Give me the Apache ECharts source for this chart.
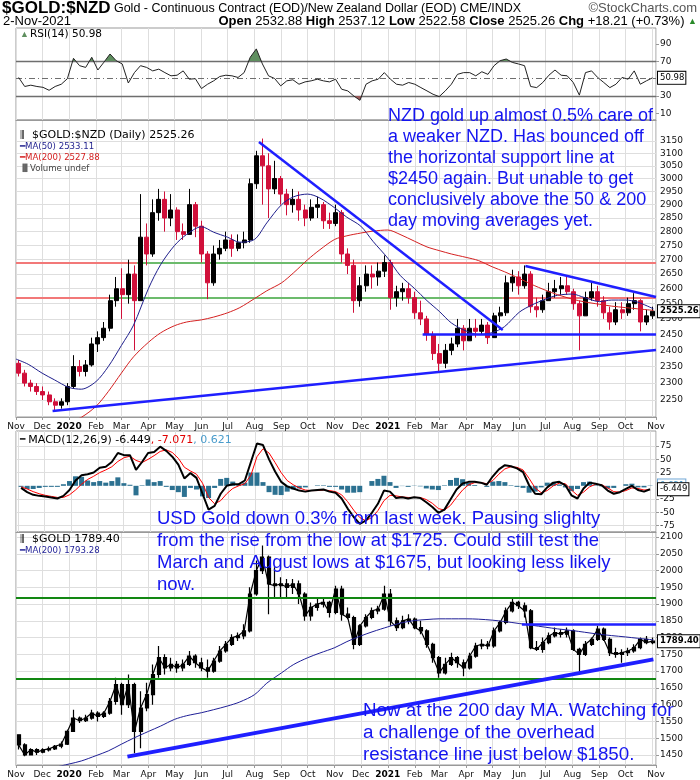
<!DOCTYPE html>
<html>
<head>
<meta charset="utf-8">
<title>$GOLD:$NZD</title>
<script src="https://cdn.jsdelivr.net/npm/echarts@6/dist/echarts.min.js"></script>
<style>
html,body{margin:0;padding:0;background:#ffffff;}
#chart{width:700px;height:780px;}
</style>
</head>
<body>
<div id="chart"></div>
<script>
// ================= DATA (weekly) =================
const weekStart = '2019-11-04';
const weekCount = 105;

const nzdOpen = [2360,2330,2300,2290,2275,2265,2245,2235,2245,2290, 2350,2335,2355,2420,2440,2470,2560,2600,2580,2650, 2560,2780,2720,2870,2920,2850,2880,2800,2790,2900, 2820,2720,2620,2720,2740,2770,2740,2760,2770,2980, 3090,3050,2960,3000,2940,2900,2920,2880,2850,2890, 2900,2840,2830,2870,2720,2680,2560,2610,2650,2640, 2660,2690,2570,2590,2600,2570,2520,2500,2450,2390, 2360,2400,2420,2470,2430,2470,2460,2480,2440,2510, 2520,2620,2640,2610,2650,2540,2530,2560,2590,2600, 2610,2590,2550,2510,2570,2590,2560,2520,2490,2530, 2520,2550,2560,2490,2510];
const nzdHigh = [2370,2340,2310,2300,2290,2275,2255,2255,2300,2385, 2370,2370,2440,2460,2490,2580,2640,2670,2700,2680, 2940,2830,2920,2960,2950,2940,2890,2830,2960,2910, 2840,2730,2750,2770,2800,2790,2790,2800,3000,3110, 3160,3100,3070,3010,2960,2960,2950,2900,2920,2930, 2910,2870,2900,2880,2740,2700,2640,2680,2680,2690, 2715,2700,2610,2620,2620,2590,2560,2510,2460,2420, 2420,2440,2500,2480,2500,2500,2500,2490,2520,2540, 2645,2665,2660,2680,2660,2570,2580,2620,2630,2640, 2645,2600,2560,2590,2625,2610,2575,2540,2555,2555, 2570,2585,2565,2530,2540];
const nzdLow = [2320,2290,2275,2265,2250,2235,2220,2225,2235,2285, 2320,2320,2350,2395,2430,2460,2540,2500,2550,2400, 2560,2680,2710,2840,2800,2820,2770,2770,2790,2780, 2690,2565,2610,2700,2730,2710,2730,2740,2760,2960, 2900,2850,2940,2900,2860,2870,2840,2820,2840,2850, 2810,2810,2820,2690,2650,2520,2540,2590,2600,2610, 2640,2530,2540,2560,2550,2500,2480,2430,2370,2335, 2345,2385,2410,2400,2430,2440,2450,2420,2440,2490, 2510,2590,2580,2600,2520,2505,2520,2560,2570,2580, 2580,2530,2400,2510,2560,2540,2500,2465,2480,2500, 2510,2530,2460,2480,2500];
const nzdClose = [2330,2300,2290,2275,2265,2245,2235,2245,2290,2350, 2335,2355,2420,2440,2470,2560,2600,2580,2650,2560, 2780,2720,2870,2920,2850,2880,2800,2790,2900,2820, 2720,2620,2720,2740,2770,2740,2760,2770,2980,3090, 3050,2960,3000,2940,2900,2920,2880,2850,2890,2900, 2840,2830,2870,2720,2680,2560,2610,2650,2640,2660, 2690,2570,2590,2600,2570,2520,2500,2450,2390,2360, 2400,2420,2470,2430,2470,2460,2480,2440,2510,2520, 2620,2640,2610,2650,2540,2530,2560,2590,2600,2610, 2590,2550,2510,2570,2590,2560,2520,2490,2530,2520, 2550,2560,2490,2510,2525.26];

const usdOpen = [1510,1480,1450,1466,1458,1465,1468,1476,1482,1520, 1560,1552,1560,1575,1565,1575,1610,1660,1600,1660, 1520,1590,1630,1690,1740,1710,1720,1710,1720,1745, 1725,1710,1700,1730,1760,1780,1800,1805,1820,1930, 2000,2040,1960,1955,1960,1950,1960,1930,1865,1890, 1900,1905,1875,1945,1870,1860,1780,1835,1860,1880, 1885,1930,1850,1830,1850,1855,1830,1820,1780,1740, 1695,1720,1740,1725,1710,1745,1775,1780,1775,1820, 1845,1880,1905,1895,1880,1770,1765,1785,1805,1815, 1810,1820,1765,1750,1780,1795,1825,1795,1755,1750, 1755,1760,1770,1795,1785];
const usdHigh = [1512,1485,1470,1470,1470,1475,1480,1490,1525,1585, 1565,1570,1585,1580,1580,1620,1680,1665,1690,1665, 1640,1665,1720,1775,1750,1740,1730,1735,1760,1750, 1740,1735,1740,1775,1790,1810,1815,1840,1950,2030, 2075,2045,2010,1980,1975,1975,1970,1935,1905,1915, 1920,1910,1955,1955,1890,1865,1840,1870,1890,1895, 1955,1945,1860,1865,1870,1860,1850,1825,1785,1745, 1740,1755,1745,1735,1755,1785,1795,1790,1830,1850, 1890,1915,1910,1905,1885,1790,1800,1815,1830,1825, 1830,1825,1770,1790,1800,1835,1830,1800,1770,1765, 1770,1780,1800,1805,1800];
const usdLow = [1466,1446,1448,1450,1455,1460,1465,1470,1480,1520, 1545,1548,1555,1550,1560,1570,1600,1570,1590,1455, 1470,1580,1600,1680,1690,1700,1695,1700,1715,1710, 1700,1680,1695,1725,1755,1775,1790,1795,1815,1925, 1990,1870,1920,1920,1920,1930,1900,1850,1850,1880, 1890,1860,1870,1850,1855,1765,1775,1830,1855,1870, 1880,1835,1820,1825,1840,1825,1810,1770,1725,1680, 1690,1715,1710,1685,1705,1740,1765,1765,1770,1815, 1840,1875,1885,1860,1765,1760,1755,1780,1800,1800, 1800,1760,1690,1745,1775,1790,1790,1745,1740,1725, 1745,1755,1765,1780,1780];
const usdClose = [1480,1450,1466,1458,1465,1468,1476,1482,1520,1560, 1552,1560,1575,1565,1575,1610,1660,1600,1660,1520, 1590,1630,1690,1740,1710,1720,1710,1720,1745,1725, 1710,1700,1730,1760,1780,1800,1805,1820,1930,2000, 2040,1960,1955,1960,1950,1960,1930,1865,1890,1900, 1905,1875,1945,1870,1860,1780,1835,1860,1880,1885, 1930,1850,1830,1850,1855,1830,1820,1780,1740,1695, 1720,1740,1725,1710,1745,1775,1780,1775,1820,1845, 1880,1905,1895,1880,1770,1765,1785,1805,1815,1810, 1820,1765,1750,1780,1795,1825,1795,1755,1750,1755, 1760,1770,1795,1785,1789.4];

const rsi14 = [51.4,41,42.5,41,40,36.6,41,43.6,50,73.5, 65,63,74.7,60,69,78.5,70.8,67,45,57, 65,63,59,61,57,53.3,54,59,49.4,50, 38.6,43.6,47.5,52.5,54,53.3,51.4,57,74.7,84.4, 67,53.3,50.2,41.7,47.5,48.7,43.6,46.3,47.5,49.4, 47.5,46.3,49.4,37.8,35.9,30,25,43.6,47.5,49.4, 57,49.4,43.6,42.5,45.6,43.6,39.7,35.9,32,29.3, 35.9,43.6,55,57,57,53.3,58,55,65,70.8, 72.7,68.8,67,65,41,39.7,45.6,54,60,54, 53.3,45.6,31,57,59,51.4,45.6,39.7,43.6,51.4, 49.4,59,43.6,47.5,50.98];

const macdLine = [-4,-12,-17,-19,-20,-22,-24,-19,-8,10, 20,22,25,34,36,45,62,58,58,30, 45,62,64,74,66,55,40,14,24,15, -15,-45,-38,-15,0,3,3,10,45,80, 77,50,27,7.5,-1,-5,-9,-11,-9,-8, -7,-11,-13,-24,-43,-59,-72,-66,-51,-34, -9,-11,-23,-21.5,-24,-21.5,-23,-31,-40,-51, -45,-26,-7,4.5,7.5,7.5,6,2,18,31, 39,37,33,26,1,-15,-16,-3,6,7.5, 1,-18,-24,-5,6,4,1,-9,-15,-12, -6,0,-8,-11,-6.449];
const macdSignal = [-2,-6,-11,-15,-18,-20,-22,-22,-17,-8, 3,12,18,25,30,36,46,53,56,48, 44,50,57,65,68,63,52,35,28,22, 5,-22,-34,-28,-15,-5,0,4,20,55, 70,62,44,25,10,2,-4,-8,-9,-9, -8,-9,-11,-17,-30,-46,-60,-66,-60,-47, -28,-18,-19,-21,-22,-22,-22,-26,-33,-43, -46,-37,-22,-8,2,6,6,4,10,22, 32,36,35,30,14,-4,-13,-9,0,5, 4,-8,-18,-12,-2,3,2,-4,-11,-12, -9,-4,-5,-8,-7.071];
const macdHistLast = 0.621;

const maDates = ['2019-11-01','2019-11-15','2019-12-01','2019-12-15','2020-01-01','2020-01-15','2020-02-01','2020-02-15','2020-03-01','2020-03-15','2020-04-01','2020-04-15','2020-05-01','2020-05-15','2020-06-01','2020-06-15','2020-07-01','2020-07-15','2020-08-01','2020-08-15','2020-09-01','2020-09-15','2020-10-01','2020-10-15','2020-11-01','2020-11-15','2020-12-01','2020-12-15','2021-01-01','2021-01-15','2021-02-01','2021-02-15','2021-03-01','2021-03-15','2021-04-01','2021-04-15','2021-05-01','2021-05-15','2021-06-01','2021-06-15','2021-07-01','2021-07-15','2021-08-01','2021-08-15','2021-09-01','2021-09-15','2021-10-01','2021-10-15','2021-11-02'];
const nzdMa50 = [2373,2357,2330,2310,2287,2282,2305,2350,2415,2480,2600,2682,2750,2790,2818,2798,2780,2762,2772,2832,2900,2930,2940,2925,2888,2853,2820,2765,2705,2646,2600,2560,2525,2487,2461,2450,2456,2475,2522,2545,2565,2578,2582,2570,2557,2562,2562,2555,2533.11];
const nzdMa200 = [2120,2130,2145,2165,2185,2200,2232,2275,2330,2380,2425,2455,2478,2490,2497,2506,2520,2537,2567,2593,2620,2655,2700,2735,2772,2785,2795,2802,2806,2790,2765,2745,2732,2720,2708,2697,2675,2658,2635,2615,2595,2580,2565,2556,2548,2542,2537,2533,2527.88];
const usdMa200 = [1380,1390,1400,1412,1423,1432,1448,1462,1482,1500,1520,1536,1556,1567,1576,1585,1596,1608,1630,1664,1695,1720,1740,1754,1770,1788,1805,1818,1832,1843,1851,1854,1856,1856,1856,1855,1852,1848,1842,1837,1831,1826,1821,1816,1810,1806,1802,1798,1793.28];

// axis ticks
const rsiTicks = [10,30,70,90];
const rsiBands = [30,70];
const rsiMid = 50;
const nzdTicks = [2250,2300,2350,2400,2450,2500,2550,2600,2650,2700,2750,2800,2850,2900,2950,3000,3050,3100,3150];
const macdTicks = [-75,-50,-25,25,50,75];
const usdTicks = [1450,1500,1550,1600,1650,1700,1750,1800,1850,1900,1950,2000,2050,2100];
const monthNames = ['Jan','Feb','Mar','Apr','May','Jun','Jul','Aug','Sep','Oct','Nov','Dec'];

// drawn lines (data coordinates)
const nzdTrend = [
  [['2020-08-06',3146],['2021-05-13',2464]],
  [['2021-02-10',2450],['2021-11-05',2450]],
  [['2019-12-13',2218],['2021-11-05',2401]],
  [['2021-06-08',2678],['2021-11-05',2572]]
];
const nzdLevelsRed = [
  [['2019-11-01',2690],['2020-03-19',2690]], [['2020-11-10',2690],['2021-11-05',2690]],
  [['2019-11-01',2570],['2020-02-17',2570]], [['2021-05-13',2570],['2021-11-05',2570]]
];
const nzdLevelsGreen = [
  [['2020-03-19',2690],['2020-11-10',2690]],
  [['2020-02-17',2570],['2021-05-13',2570]]
];
const usdLevelsGreen = [
  [['2019-11-01',1918],['2021-11-05',1918]],
  [['2019-11-01',1677],['2021-11-05',1677]]
];
const usdTrend = [
  [['2021-06-04',1841],['2021-11-05',1841]],
  [['2020-03-08',1445],['2021-11-02',1735]]
];

// texts
const headerSymbol = '$GOLD:$NZD';
const headerDesc = 'Gold - Continuous Contract (EOD)/New Zealand Dollar (EOD) CME/INDX';
const headerDate = '2-Nov-2021';
const quoteFields = [['Open','2532.88'],['High','2537.12'],['Low','2522.58'],['Close','2525.26'],['Chg','+18.21 (+0.73%)']];
const nzdNote = ['NZD gold up almost 0.5% care of','a weaker NZD. Has bounced off','the horizontal support line at','$2450 again. But unable to get','conclusively above the 50 & 200','day moving averages yet.'];
const usdNote = ['USD Gold down 0.3% from last week. Pausing slighlty','from the rise from the low at $1725. Could still test the','March and August lows at $1675, but looking less likely','now.'];
const maNote = ['Now at the 200 day MA. Watching for','a challenge of the overhead','resistance line just below $1850.'];

// ================= BUILD =================
const DAY = 86400000;
const weekDates = [];
{
  const t0 = Date.parse(weekStart + 'T00:00:00Z');
  for (let k = 0; k < weekCount; k++) weekDates.push(new Date(t0 + k * 7 * DAY).toISOString().slice(0, 10));
}
const last = a => a[a.length - 1];
const pairs = (dates, vals) => dates.map((d, i) => [d, vals[i]]);
const macdHist = macdLine.map((v, i) => +(v - macdSignal[i]).toFixed(3));

const X_MIN = '2019-11-01', X_MAX = '2021-11-05';
const AXIS_FONT = 'DejaVu Sans';
const BLUE = '#1f1fff', SALMON = '#f27878', LGREEN = '#6cbb6c', DGREEN = '#128712';
const CLEAR = 'rgba(255,255,255,0)';

function monthFmt(v) {
  const d = new Date(v);
  const m = d.getMonth();
  return m === 0 ? '{y|' + d.getFullYear() + '}' : monthNames[m];
}
function xAxisFor(i, showLabels) {
  return {
    type: 'time', gridIndex: i, min: X_MIN, max: X_MAX,
    splitNumber: 24, minInterval: 28 * DAY, maxInterval: 31 * DAY,
    axisLine: { show: true, onZero: false, lineStyle: { color: '#999' } },
    axisTick: { show: showLabels, length: 3, lineStyle: { color: '#999' } },
    splitLine: { show: true, lineStyle: { color: '#dedede', width: 1 } },
    axisLabel: {
      show: showLabels, formatter: monthFmt, color: '#111', fontSize: 9, fontFamily: AXIS_FONT,
      margin: 5, hideOverlap: false, showMinLabel: true, showMaxLabel: true,
      rich: { y: { fontWeight: 'bold', fontSize: 9, fontFamily: AXIS_FONT, color: '#000' } }
    },
    axisPointer: { show: false }
  };
}
function yLinear(i, min, max, ticks) {
  return {
    type: 'value', gridIndex: i, position: 'right', min: min, max: max,
    splitLine: { show: false }, axisLine: { show: false },
    axisTick: { show: true, length: 3, customValues: ticks, lineStyle: { color: '#999' } },
    axisLabel: { customValues: ticks, formatter: v => String(v), color: '#111', fontSize: 9, fontFamily: AXIS_FONT, margin: 4 }
  };
}
function segs(list, style) {
  return list.map(s => [{ coord: s[0], lineStyle: style }, { coord: s[1] }]);
}
function hLines(ticks, withLabel) {
  return ticks.map(v => ({
    yAxis: v, lineStyle: { color: '#dedede', width: 1, type: 'solid' },
    label: withLabel ? { show: true, position: 'end', formatter: () => String(v), color: '#111',
                         fontSize: 9, fontFamily: AXIS_FONT, distance: 4 } : { show: false }
  }));
}
function valueBox(v, text, bold, border, color) {
  return {
    yAxis: v, lineStyle: { width: 0, color: CLEAR },
    label: {
      show: true, position: 'end', formatter: () => text, distance: 2, opacity: 1,
      backgroundColor: '#fff', borderColor: border, borderWidth: 1, padding: [2, 1, 1, 2],
      color: color, fontSize: 8.5, fontWeight: bold ? 'bold' : 'normal', fontFamily: AXIS_FONT
    }
  };
}
function marks(z, data) {
  return { silent: true, symbol: ['none', 'none'], animation: false, z: z, label: { show: false }, data: data };
}

const rsiData = pairs(weekDates, rsi14);

const option = {
  animation: false,
  backgroundColor: '#fff',
  grid: [
    { left: 16, top: 28, width: 640, height: 92, show: true, borderColor: '#999', borderWidth: 1 },
    { left: 16, top: 120, width: 640, height: 297, show: true, borderColor: '#999', borderWidth: 1 },
    { left: 16, top: 431, width: 640, height: 101, show: true, borderColor: '#999', borderWidth: 1 },
    { left: 16, top: 532, width: 640, height: 233, show: true, borderColor: '#999', borderWidth: 1 }
  ],
  xAxis: [xAxisFor(0, false), xAxisFor(1, true), xAxisFor(2, false), xAxisFor(3, true)],
  yAxis: [
    yLinear(0, 2.3, 108.5, rsiTicks),
    { type: 'log', gridIndex: 1, position: 'right', min: 2201, max: 3237,
      splitLine: { show: false }, axisLine: { show: false }, axisTick: { show: false }, axisLabel: { show: false } },
    yLinear(2, -87.3, 103.6, macdTicks),
    yLinear(3, 1420, 2115, usdTicks)
  ],
  visualMap: [
    { type: 'piecewise', show: false, seriesIndex: 1, dimension: 1,
      pieces: [{ gt: 70, lte: 200, color: '#5f8f5f' }, { gte: -100, lte: 70, color: CLEAR }] },
    { type: 'piecewise', show: false, seriesIndex: 2, dimension: 1,
      pieces: [{ gte: -100, lt: 30, color: '#9a5a5a' }, { gte: 30, lte: 200, color: CLEAR }] }
  ],
  series: [
    { name: 'RSI', type: 'line', xAxisIndex: 0, yAxisIndex: 0, data: rsiData, symbol: 'none',
      lineStyle: { color: '#222', width: 1 }, itemStyle: { color: '#222' }, z: 3,
      markLine: marks(2,
        rsiBands.map(v => ({ yAxis: v, lineStyle: { color: '#6e6e6e', width: 1.3, type: 'solid' } }))
          .concat([{ yAxis: rsiMid, lineStyle: { color: '#6e6e6e', width: 1, type: [6, 3, 1, 3] } },
                   valueBox(last(rsi14), last(rsi14).toFixed(2), false, '#000', '#000')])) },
    { name: 'rsiOver', type: 'line', xAxisIndex: 0, yAxisIndex: 0, data: rsiData, symbol: 'none', silent: true,
      lineStyle: { width: 0, opacity: 0 }, areaStyle: { origin: 70, opacity: 1 }, z: 2 },
    { name: 'rsiUnder', type: 'line', xAxisIndex: 0, yAxisIndex: 0, data: rsiData, symbol: 'none', silent: true,
      lineStyle: { width: 0, opacity: 0 }, areaStyle: { origin: 30, opacity: 1 }, z: 2 },

    { name: '$GOLD:$NZD', type: 'candlestick', xAxisIndex: 1, yAxisIndex: 1, barWidth: 4.5,
      encode: { x: 0, y: [1, 2, 3, 4] },
      data: weekDates.map((d, i) => [d, nzdOpen[i], nzdClose[i], nzdLow[i], nzdHigh[i]]),
      itemStyle: { color: '#000', color0: '#d0103a', borderColor: '#000', borderColor0: '#d0103a', borderWidth: 1 },
      z: 3 },
    { name: 'MA(50)', type: 'line', xAxisIndex: 1, yAxisIndex: 1, data: pairs(maDates, nzdMa50), symbol: 'none',
      smooth: 0.3, lineStyle: { color: '#1e1e8c', width: 1 }, z: 4,
      markLine: marks(1, hLines(nzdTicks, true)
          .concat(segs(nzdLevelsRed, { color: SALMON, width: 2, type: 'solid' }))
          .concat(segs(nzdLevelsGreen, { color: LGREEN, width: 2, type: 'solid' }))) },
    { name: 'MA(200)', type: 'line', xAxisIndex: 1, yAxisIndex: 1, data: pairs(maDates, nzdMa200), symbol: 'none',
      smooth: 0.3, lineStyle: { color: '#d42020', width: 1 }, z: 4,
      markLine: marks(6, segs(nzdTrend, { color: BLUE, width: 2.5, type: 'solid' })
          .concat([valueBox(last(nzdClose), last(nzdClose).toFixed(2), true, '#000', '#000')])) },

    { name: 'Histogram', type: 'bar', xAxisIndex: 2, yAxisIndex: 2, data: pairs(weekDates, macdHist),
      barWidth: 5, itemStyle: { color: '#2c7191' }, z: 2 },
    { name: 'MACD', type: 'line', xAxisIndex: 2, yAxisIndex: 2, data: pairs(weekDates, macdLine), symbol: 'none',
      lineStyle: { color: '#000', width: 2 }, z: 4,
      markLine: marks(6, [valueBox(macdHistLast, macdHistLast.toFixed(3), false, '#6fa6d6', '#4a9ccc'),
               valueBox(last(macdLine), last(macdLine).toFixed(3), false, '#000', '#000')]) },
    { name: 'Signal', type: 'line', xAxisIndex: 2, yAxisIndex: 2, data: pairs(weekDates, macdSignal), symbol: 'none',
      lineStyle: { color: '#ff0000', width: 1 }, z: 3,
      markLine: marks(1, hLines(macdTicks, false)) },

    { name: '$GOLD', type: 'candlestick', xAxisIndex: 3, yAxisIndex: 3, barWidth: 3.5,
      encode: { x: 0, y: [1, 2, 3, 4] },
      data: weekDates.map((d, i) => [d, usdOpen[i], usdClose[i], usdLow[i], usdHigh[i]]),
      itemStyle: { color: '#000', color0: '#000', borderColor: '#000', borderColor0: '#000', borderWidth: 1.2 },
      z: 3 },
    { name: '$GOLD close', type: 'line', xAxisIndex: 3, yAxisIndex: 3, data: pairs(weekDates, usdClose), symbol: 'none',
      silent: true, lineStyle: { color: '#000', width: 1.2 }, z: 3 },
    { name: 'MA(200) USD', type: 'line', xAxisIndex: 3, yAxisIndex: 3, data: pairs(maDates, usdMa200), symbol: 'none',
      smooth: 0.3, lineStyle: { color: '#1e1e96', width: 1 }, z: 4,
      markLine: marks(6, segs(usdLevelsGreen, { color: DGREEN, width: 2, type: 'solid' })
          .concat(segs(usdTrend.slice(0, 1), { color: BLUE, width: 2.5, type: 'solid' }))
          .concat(segs(usdTrend.slice(1), { color: BLUE, width: 4, type: 'solid' }))
          .concat([valueBox(last(usdClose), last(usdClose).toFixed(2), true, '#000', '#000')])) },
    { name: 'usdGrid', type: 'line', xAxisIndex: 3, yAxisIndex: 3, data: [[X_MIN, usdTicks[0]]], symbol: 'none',
      silent: true, lineStyle: { opacity: 0 }, z: 1,
      markLine: marks(1, hLines(usdTicks, false)) }
  ],
  graphic: [
    { type: 'text', left: 2, top: 0, z: 10, style: {
        text: '{a|' + headerSymbol + '} {b|' + headerDesc + '}',
        rich: { a: { fontSize: 17, fontWeight: 'bold', fontFamily: '"Liberation Sans Narrow", "Liberation Sans", sans-serif', fill: '#000' },
                b: { fontSize: 12.5, fontFamily: '"Liberation Sans Narrow", "Liberation Sans", sans-serif', fill: '#000' } } } },
    { type: 'text', right: 3, top: 2, z: 10, style: { text: '\u00A9StockCharts.com', fontSize: 13, fontFamily: '"Liberation Sans", sans-serif', fill: '#555' } },
    { type: 'text', left: 3, top: 15, z: 10, style: { text: headerDate, fontSize: 13, fontFamily: '"Liberation Sans Narrow", "Liberation Sans", sans-serif', fill: '#000' } },
    { type: 'text', right: 3, top: 15, z: 10, style: {
        text: quoteFields.map(q => '{b|' + q[0] + '} ' + q[1]).join(' ') + ' {g|\u25B2}',
        fontSize: 13, fontFamily: '"Liberation Sans Narrow", "Liberation Sans", sans-serif', fill: '#000',
        rich: { b: { fontWeight: 'bold', fontSize: 13, fontFamily: '"Liberation Sans Narrow", "Liberation Sans", sans-serif' },
                g: { fill: '#2a8a2a', fontSize: 9 } } } },

    // panel legends
    { type: 'text', left: 20, top: 30, z: 10, style: { text: '\u25B2', fontSize: 9, fill: '#5f8f5f' } },
    { type: 'text', left: 30, top: 28.5, z: 10, style: { text: 'RSI(14) ' + last(rsi14).toFixed(2), fontSize: 10.5, fontFamily: AXIS_FONT, fill: '#000' } },

    { type: 'text', left: 20, top: 130, z: 10, style: { text: '\u2AFC', fontSize: 10, fontFamily: AXIS_FONT, fill: '#000' } },
    { type: 'text', left: 32, top: 130, z: 10, style: { text: headerSymbol + ' (Daily) ' + last(nzdClose).toFixed(2), fontSize: 11, fontFamily: AXIS_FONT, fill: '#000' } },
    { type: 'text', left: 20, top: 142, z: 10, style: { text: '{m|\u2501}{t|MA(50) ' + last(nzdMa50).toFixed(2) + '}',
        rich: { m: { fill: '#1e1e8c', fontSize: 9 }, t: { fill: '#1e1e8c', fontSize: 8.6, fontFamily: AXIS_FONT } } } },
    { type: 'text', left: 20, top: 153, z: 10, style: { text: '{m|\u2501}{t|MA(200) ' + last(nzdMa200).toFixed(2) + '}',
        rich: { m: { fill: '#d42020', fontSize: 9 }, t: { fill: '#d42020', fontSize: 8.6, fontFamily: AXIS_FONT } } } },
    { type: 'text', left: 20, top: 164, z: 10, style: { text: '{m|\u2590\u258C}{t|Volume undef}',
        rich: { m: { fill: '#666', fontSize: 7 }, t: { fill: '#444', fontSize: 8.6, fontFamily: AXIS_FONT } } } },

    { type: 'text', left: 20, top: 434, z: 10, style: {
        text: '{m|\u2501} {a|MACD(12,26,9) ' + last(macdLine).toFixed(3) + '}{r|, ' + last(macdSignal).toFixed(3) + '}{c|, ' + macdHistLast.toFixed(3) + '}',
        rich: { m: { fill: '#000', fontSize: 9 }, a: { fill: '#000', fontSize: 11, fontFamily: AXIS_FONT },
                r: { fill: '#e00000', fontSize: 11, fontFamily: AXIS_FONT }, c: { fill: '#4a9ccc', fontSize: 11, fontFamily: AXIS_FONT } } } },

    { type: 'text', left: 20, top: 534, z: 10, style: { text: '\u2AFC', fontSize: 10, fontFamily: AXIS_FONT, fill: '#000' } },
    { type: 'text', left: 32, top: 534, z: 10, style: { text: '$GOLD ' + last(usdClose).toFixed(2), fontSize: 11, fontFamily: AXIS_FONT, fill: '#000' } },
    { type: 'text', left: 20, top: 546, z: 10, style: { text: '{m|\u2501}{t|MA(200) ' + last(usdMa200).toFixed(2) + '}',
        rich: { m: { fill: '#1e1e96', fontSize: 9 }, t: { fill: '#1e1e96', fontSize: 8.6, fontFamily: AXIS_FONT } } } },

    // annotations
    { type: 'text', left: 388, top: 105.5, z: 20, style: { text: nzdNote.join('\n'), fontSize: 18, lineHeight: 21,
        fontFamily: '"Liberation Sans", Arial, sans-serif', fill: '#1414f0' } },
    { type: 'text', left: 157, top: 508, z: 20, style: { text: usdNote.join('\n'), fontSize: 18.5, lineHeight: 22,
        fontFamily: '"Liberation Sans", Arial, sans-serif', fill: '#1414f0' } },
    { type: 'text', left: 363, top: 700, z: 20, style: { text: maNote.join('\n'), fontSize: 18.8, lineHeight: 22,
        fontFamily: '"Liberation Sans", Arial, sans-serif', fill: '#1414f0' } }
  ]
};

const chart = echarts.init(document.getElementById('chart'), null, { renderer: 'canvas' });
chart.setOption(option);
</script>
</body>
</html>
